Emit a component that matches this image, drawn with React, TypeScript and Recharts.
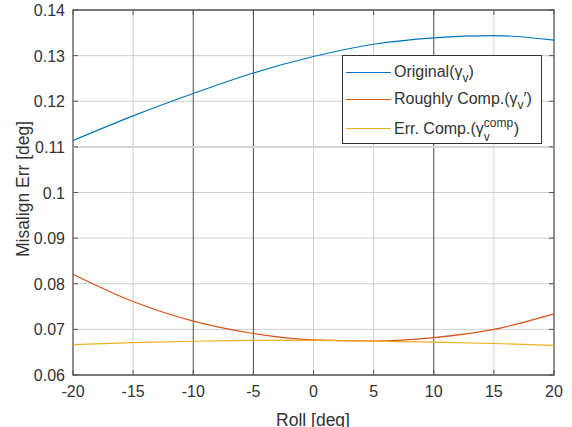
import {
  CartesianGrid,
  Line,
  LineChart,
  ReferenceArea,
  ReferenceLine,
  XAxis,
  YAxis
} from "recharts";

// roll sweep [deg] and misalignment error [deg] for each compensation stage
const rollDeg = [-20, -15, -10, -5, 0, 5, 10, 15, 20];
const original = [0.1114, 0.1168, 0.1217, 0.1262, 0.1298, 0.1325, 0.1339, 0.1344, 0.1334];
const roughlyComp = [0.0821, 0.0761, 0.0718, 0.0691, 0.0677, 0.06745, 0.0682, 0.07, 0.0734];
const errComp = [0.06664, 0.06708, 0.0674, 0.0676, 0.0676, 0.0674, 0.0672, 0.0669, 0.0665];

const xTicks = [-20, -15, -10, -5, 0, 5, 10, 15, 20];
const yTicks = [0.06, 0.07, 0.08, 0.09, 0.1, 0.11, 0.12, 0.13, 0.14];
const darkGridX = [-10, -5, 10];

const BLUE = "#0072BD";
const RED = "#D95319";
const YELLOW = "#EDB120";
const AXIS = "#555";
const TEXT = "#333";
const FONT = "'Liberation Sans', Arial, sans-serif";

const PLOT = { left: 73, right: 554, top: 10, bottom: 375 };

const data = rollDeg.map((roll, i) => ({
  roll,
  original: original[i],
  roughly: roughlyComp[i],
  err: errComp[i]
}));

const XTick = ({ x, payload }: any) => (
  <g>
    <line x1={x} x2={x} y1={PLOT.bottom} y2={PLOT.bottom - 5} stroke={AXIS} />
    <line x1={x} x2={x} y1={PLOT.top} y2={PLOT.top + 5} stroke={AXIS} />
    <text x={x} y={397} textAnchor="middle" fontSize={16} fill={TEXT} fontFamily={FONT}>
      {payload.value}
    </text>
  </g>
);

const YTick = ({ y, payload }: any) => (
  <g>
    <line x1={PLOT.left} x2={PLOT.left + 5} y1={y} y2={y} stroke={AXIS} />
    <line x1={PLOT.right} x2={PLOT.right - 5} y1={y} y2={y} stroke={AXIS} />
    <text x={65} y={y + 6} textAnchor="end" fontSize={16} fill={TEXT} fontFamily={FONT}>
      {Number(payload.value.toFixed(2))}
    </text>
  </g>
);

// gamma with a subscript, optionally stacked under a superscript
const gamma = (sub: string, sup?: string) => (
  <>
    γ
    {sup ? (
      <span style={{ position: "relative", display: "inline-block", width: 30, height: 16, fontSize: 12, lineHeight: "14px" }}>
        <span style={{ position: "absolute", left: 0, top: -2 }}>{sup}</span>
        <span style={{ position: "absolute", left: 0, top: 12 }}>{sub}</span>
      </span>
    ) : (
      <span style={{ fontSize: 12, position: "relative", top: 5 }}>{sub}</span>
    )}
  </>
);

const legendItems = [
  { color: BLUE, label: <>Original({gamma("v")})</> },
  { color: RED, label: <>Roughly Comp.({gamma("v")}′)</> },
  { color: YELLOW, label: <>Err. Comp.({gamma("v", "comp")})</> }
];
const legendRowCenters = [16, 43, 72];

const LegendBox = () => (
  <div
    style={{
      position: "absolute",
      left: 342,
      top: 55,
      width: 200,
      height: 89,
      boxSizing: "border-box",
      border: "1px solid #333",
      background: "#fff",
      fontFamily: FONT,
      fontSize: 16,
      color: TEXT
    }}
  >
    {legendItems.map((item, i) => (
      <div
        key={i}
        style={{
          position: "absolute",
          left: 3,
          top: legendRowCenters[i] - 10,
          height: 20,
          display: "flex",
          alignItems: "center",
          whiteSpace: "nowrap"
        }}
      >
        <span style={{ width: 45, height: 0, borderTop: `1px solid ${item.color}`, marginRight: 3 }} />
        <span>{item.label}</span>
      </div>
    ))}
  </div>
);

export default function App() {
  return (
    <div style={{ position: "absolute", left: 0, top: 0, width: 572, height: 427, background: "#fff", overflow: "hidden" }}>
      <LineChart
        width={572}
        height={427}
        data={data}
        margin={{ top: PLOT.top, right: 572 - PLOT.right, bottom: 0, left: 0 }}
      >
        <CartesianGrid vertical={false} stroke="#cfcfcf" />
        {xTicks.slice(1, -1).map((t) => (
          <ReferenceLine
            key={t}
            x={t}
            stroke={darkGridX.includes(t) ? "#4a4a4a" : "#cfcfcf"}
            strokeWidth={1}
          />
        ))}
        <ReferenceLine y={0.11} stroke="#d4d4d4" strokeWidth={2} />
        <XAxis
          dataKey="roll"
          type="number"
          domain={[-20, 20]}
          ticks={xTicks}
          height={427 - PLOT.bottom}
          axisLine={false}
          tickLine={false}
          tick={<XTick />}
          label={{
            content: () => (
              <text x={313} y={426} textAnchor="middle" fontSize={17.5} fill={TEXT} fontFamily={FONT}>
                Roll [deg]
              </text>
            )
          }}
        />
        <YAxis
          type="number"
          domain={[0.06, 0.14]}
          ticks={yTicks}
          width={PLOT.left}
          axisLine={false}
          tickLine={false}
          tick={<YTick />}
          label={{
            content: () => (
              <text
                x={23}
                y={189}
                transform="rotate(-90, 23, 189)"
                textAnchor="middle"
                dominantBaseline="central"
                fontSize={17.5}
                fill={TEXT}
                fontFamily={FONT}
              >
                Misalign Err [deg]
              </text>
            )
          }}
        />
        <Line type="monotone" dataKey="original" stroke={BLUE} strokeWidth={1.2} dot={false} isAnimationActive={false} />
        <Line type="monotone" dataKey="roughly" stroke={RED} strokeWidth={1.2} dot={false} isAnimationActive={false} />
        <Line type="monotone" dataKey="err" stroke={YELLOW} strokeWidth={1.2} dot={false} isAnimationActive={false} />
        <ReferenceArea x1={-20} x2={20} y1={0.06} y2={0.14} fill="none" stroke={AXIS} strokeWidth={1.3} />
      </LineChart>
      <LegendBox />
    </div>
  );
}
